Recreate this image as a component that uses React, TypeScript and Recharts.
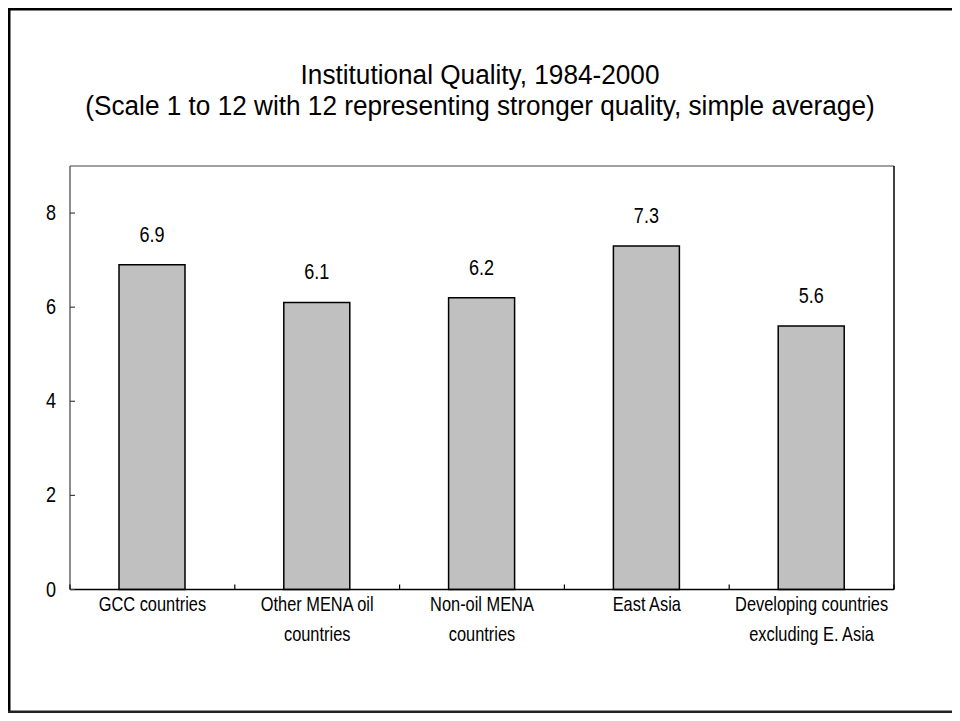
import React from 'react';
import { BarChart, Bar, XAxis, YAxis, LabelList, ReferenceLine } from 'recharts';

const FONT = '"Liberation Sans", Arial, sans-serif';

// data
const categories = [
  ['GCC countries'],
  ['Other MENA oil', 'countries'],
  ['Non-oil MENA', 'countries'],
  ['East Asia'],
  ['Developing countries', 'excluding E. Asia'],
];
const values = [6.9, 6.1, 6.2, 7.3, 5.6];
const yTicks = [0, 2, 4, 6, 8];
const titleLines = [
  'Institutional Quality, 1984-2000',
  '(Scale 1 to 12 with 12 representing stronger quality, simple average)',
];

const chartData = values.map((v, i) => ({ pos: i + 0.5, value: v }));
// boundaries get a tick mark, band centres get the label
const xTicks = categories.flatMap((_, i) => [i, i + 0.5]).concat(categories.length);

type TextProps = {
  x: number,
  y: number,
  anchor: 'start' | 'middle' | 'end',
  size: number,
  sx: number,
  children: React.ReactNode,
};

// the reference uses a narrow face, so squeeze the text a bit
const SqText = ({ x, y, anchor, size, sx, children }: TextProps) => (
  <text
    transform={`translate(${x} ${y}) scale(${sx} 1)`}
    textAnchor={anchor}
    fontSize={size}
    fontFamily={FONT}
    fill="#000"
  >
    {children}
  </text>
);

const XTick = (props: any) => {
  const { x, y, payload } = props;
  const v = payload.value;
  if (Number.isInteger(v)) {
    return <line x1={x} y1={y} x2={x} y2={y - 5} stroke="#000" strokeWidth={1.2} />;
  }
  const lines = categories[Math.floor(v)];
  return (
    <g>
      {lines.map((t, i) => (
        <SqText key={i} x={x} y={y + 21 + i * 30} anchor="middle" size={20} sx={0.82}>
          {t}
        </SqText>
      ))}
    </g>
  );
};

const LeftTick = (props: any) => {
  const { x, y, payload } = props;
  return (
    <g>
      <line x1={x} y1={y} x2={x + 5} y2={y} stroke="#404040" strokeWidth={1.2} />
      <SqText x={x - 14} y={y + 7} anchor="end" size={22} sx={0.82}>{payload.value}</SqText>
    </g>
  );
};

const RightTick = (props: any) => {
  const { x, y, payload } = props;
  return (
    <g>
      <line x1={x} y1={y} x2={x - 5} y2={y} stroke="#000" strokeWidth={1.5} />
      <SqText x={x + 15} y={y + 7} anchor="start" size={22} sx={0.82}>{payload.value}</SqText>
    </g>
  );
};

const ValueLabel = (props: any) => {
  const { x, y, width, value } = props;
  return (
    <SqText x={x + width / 2} y={y - 23} anchor="middle" size={22} sx={0.82}>
      {Number(value).toFixed(1)}
    </SqText>
  );
};

const App = () => {
  return (
    <div style={{ position: 'relative', width: 960, height: 721, margin: -8, background: '#fff' }}>
      <BarChart
        width={960}
        height={721}
        data={chartData}
        margin={{ top: 166, right: 6, bottom: 31.5, left: 10 }}
      >
        {/* slide frame, open on the right; outer 8px of the page is not shown */}
        <rect x={8} y={8} width={952} height={2.5} fill="#000" />
        <rect x={8} y={8} width={2.5} height={705} fill="#000" />
        <rect x={8} y={710.5} width={952} height={2.5} fill="#222" />
        {titleLines.map((t, i) => (
          <SqText key={i} x={480} y={84 + i * 31} anchor="middle" size={27} sx={0.97}>
            {t}
          </SqText>
        ))}
        <XAxis
          dataKey="pos"
          type="number"
          domain={[0, categories.length]}
          ticks={xTicks}
          interval={0}
          tick={<XTick />}
          tickLine={false}
          tickSize={0}
          tickMargin={0}
          height={100}
          axisLine={{ stroke: '#000', strokeWidth: 1.5 }}
        />
        <YAxis
          yAxisId="left"
          domain={[0, 9]}
          ticks={yTicks}
          width={60}
          tick={<LeftTick />}
          tickLine={false}
          tickSize={0}
          tickMargin={0}
          axisLine={{ stroke: '#404040', strokeWidth: 1.2 }}
        />
        <YAxis
          yAxisId="right"
          orientation="right"
          domain={[0, 9]}
          ticks={yTicks}
          width={60}
          tick={<RightTick />}
          tickLine={false}
          tickSize={0}
          tickMargin={0}
          axisLine={{ stroke: '#000', strokeWidth: 1.5 }}
        />
        <ReferenceLine yAxisId="left" y={9} stroke="#808080" strokeWidth={1.5} />
        <Bar
          yAxisId="left"
          dataKey="value"
          barSize={66}
          fill="#C0C0C0"
          stroke="#000"
          strokeWidth={1.5}
          isAnimationActive={false}
        >
          <LabelList dataKey="value" content={<ValueLabel />} />
        </Bar>
      </BarChart>
    </div>
  );
};

export default App;
